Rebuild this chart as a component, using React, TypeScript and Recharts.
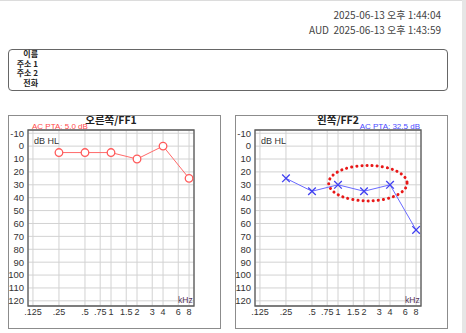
import React from "react";
import {
  LineChart,
  Line,
  XAxis,
  YAxis,
  CartesianGrid,
  ReferenceArea,
} from "recharts";

// measured frequencies (kHz) and thresholds (dB HL)
const FREQS = [0.25, 0.5, 1, 2, 4, 8];
const RIGHT_EAR_DB = [5, 5, 5, 10, 0, 25];
const LEFT_EAR_DB = [25, 35, 30, 35, 30, 65];

const FREQ_TICKS = [0.125, 0.25, 0.5, 0.75, 1, 1.5, 2, 3, 4, 6, 8];
const FREQ_LABELS = [".125", ".25", ".5", ".75", "1", "1.5", "2", "3", "4", "6", "8"];
const DB_TICKS = [-10, 0, 10, 20, 30, 40, 50, 60, 70, 80, 90, 100, 110, 120];

// dotted highlight on the left ear chart (kHz / dB HL)
const HIGHLIGHT_FREQ = [0.78, 6.3];
const HIGHLIGHT_DB = [15, 42.5];

const X_MIN = -3.19;
const X_MAX = 3.19;
const Y_MIN = -12.5;
const Y_MAX = 124;

const log2 = (f: number) => Math.log(f) / Math.LN2;
const tickLabel = (v: number) => {
  const i = FREQ_TICKS.findIndex((f) => Math.abs(log2(f) - v) < 1e-6);
  return i >= 0 ? FREQ_LABELS[i] : "";
};

const FONT = "'Liberation Sans', 'Noto Sans CJK KR', sans-serif";
const KFONT = "'Noto Sans CJK KR', 'Liberation Sans', sans-serif";

const CircleDot = (props: any) => {
  const { cx, cy } = props;
  if (cx == null || cy == null) return null;
  return <circle cx={cx} cy={cy} r={3.8} fill="#fff" stroke="#ff5a5a" strokeWidth={1.3} />;
};

const CrossDot = (props: any) => {
  const { cx, cy } = props;
  if (cx == null || cy == null) return null;
  const s = 3.8;
  return (
    <g stroke="#4040f0" strokeWidth={1.3}>
      <line x1={cx - s} y1={cy - s} x2={cx + s} y2={cy + s} />
      <line x1={cx - s} y1={cy + s} x2={cx + s} y2={cy - s} />
    </g>
  );
};

const EllipseShape = (p: any) => (
  <ellipse
    cx={p.x + p.width / 2}
    cy={p.y + p.height / 2}
    rx={Math.abs(p.width) / 2}
    ry={Math.abs(p.height) / 2}
    fill="none"
    stroke="#e81818"
    strokeWidth={3}
    strokeDasharray="0.1 5"
    strokeLinecap="round"
  />
);

interface PanelProps {
  left: number;
  title: string;
  pta: string;
  ptaColor: string;
  ptaRight?: boolean;
  values: number[];
  color: string;
  dot: (p: any) => React.ReactElement | null;
  highlight?: boolean;
}

const Panel: React.FC<PanelProps> = ({ left, title, pta, ptaColor, ptaRight, values, color, dot, highlight }) => {
  const data = FREQS.map((f, i) => ({ lx: log2(f), db: values[i] }));
  return (
    <>
      <div
        style={{
          position: "absolute",
          left,
          top: 115,
          width: 213,
          height: 214,
          border: "1px solid #8c8c8c",
          boxSizing: "border-box",
        }}
      />
      <div style={{ position: "absolute", left }}>
        <div style={{ position: "absolute", left: 0, top: 115 }}>
          <LineChart width={213} height={214} data={data} margin={{ top: 15, right: 27, bottom: 0, left: 0 }}>
            <CartesianGrid stroke="#d2d2d2" strokeWidth={1} />
            <XAxis
              dataKey="lx"
              type="number"
              domain={[X_MIN, X_MAX]}
              allowDataOverflow
              ticks={FREQ_TICKS.map(log2)}
              tickFormatter={tickLabel}
              interval={0}
              height={23}
              tickSize={0}
              tickMargin={3}
              axisLine={false}
              tick={{ fontSize: 9, fill: "#333", fontFamily: FONT }}
            />
            <YAxis
              type="number"
              reversed
              domain={[Y_MIN, Y_MAX]}
              allowDataOverflow
              ticks={DB_TICKS}
              interval={0}
              width={20}
              tickSize={0}
              tickMargin={4}
              axisLine={false}
              tick={{ fontSize: 9.5, fill: "#333", fontFamily: FONT }}
            />
            <ReferenceArea
              x1={X_MIN}
              x2={X_MAX}
              y1={Y_MIN}
              y2={Y_MAX}
              fill="none"
              stroke="#5a5a5a"
              strokeWidth={1.3}
              ifOverflow="visible"
            />
            {highlight && (
              <ReferenceArea
                x1={log2(HIGHLIGHT_FREQ[0])}
                x2={log2(HIGHLIGHT_FREQ[1])}
                y1={HIGHLIGHT_DB[0]}
                y2={HIGHLIGHT_DB[1]}
                shape={EllipseShape}
                ifOverflow="visible"
              />
            )}
            <Line
              dataKey="db"
              type="linear"
              stroke={color}
              strokeWidth={1}
              dot={dot}
              activeDot={false}
              isAnimationActive={false}
            />
          </LineChart>
        </div>
        <div
          style={{
            position: "absolute",
            left: 20,
            width: 166,
            top: 113,
            textAlign: "center",
            fontFamily: KFONT,
            fontWeight: "bold",
            fontSize: 10.5,
            lineHeight: "14px",
            color: "#222",
            whiteSpace: "nowrap",
          }}
        >
          {title}
        </div>
        <div
          style={{
            position: "absolute",
            ...(ptaRight ? { left: 20, width: 165, textAlign: "right" as const } : { left: 24 }),
            top: 122,
            fontFamily: FONT,
            fontSize: 8,
            lineHeight: "9px",
            color: ptaColor,
            whiteSpace: "nowrap",
          }}
        >
          {pta}
        </div>
        <div
          style={{
            position: "absolute",
            left: 26,
            top: 136,
            fontFamily: FONT,
            fontSize: 9,
            lineHeight: "10px",
            color: "#333",
            whiteSpace: "nowrap",
          }}
        >
          dB HL
        </div>
        <div
          style={{
            position: "absolute",
            left: 170,
            top: 295,
            fontFamily: FONT,
            fontSize: 8.5,
            lineHeight: "10px",
            color: "#553355",
            whiteSpace: "nowrap",
          }}
        >
          kHz
        </div>
      </div>
    </>
  );
};

const infoLabels = ["이름", "주소 1", "주소 2", "전화"];

const App: React.FC = () => {
  return (
    <div
      style={{
        position: "absolute",
        left: 0,
        top: 0,
        width: 466,
        height: 333,
        background: "#fff",
        overflow: "hidden",
        fontFamily: KFONT,
      }}
    >
      <div style={{ position: "absolute", left: 0, top: 0, width: 466, height: 1, background: "#dcdcdc" }} />
      <div style={{ position: "absolute", left: 462, top: 0, width: 4, height: 333, background: "#e6e6e6" }} />
      <div
        style={{
          position: "absolute",
          right: 25,
          top: 7,
          textAlign: "right",
          fontSize: 10,
          lineHeight: "15px",
          color: "#444",
          fontFamily: KFONT,
          whiteSpace: "pre",
        }}
      >
        <div>2025-06-13 오후 1:44:04</div>
        <div>AUD  2025-06-13 오후 1:43:59</div>
      </div>
      <div
        style={{
          position: "absolute",
          left: 8,
          top: 49,
          width: 440,
          height: 42,
          border: "1px solid #666",
          borderRadius: 4,
          boxSizing: "border-box",
        }}
      />
      {infoLabels.map((t, i) => (
        <div
          key={t}
          style={{
            position: "absolute",
            left: 8,
            top: 49 + i * 9.6,
            width: 30,
            textAlign: "right",
            fontSize: 8,
            lineHeight: "9px",
            fontWeight: "bold",
            color: "#222",
            fontFamily: KFONT,
            whiteSpace: "nowrap",
          }}
        >
          {t}
        </div>
      ))}
      <Panel
        left={8}
        title="오른쪽/FF1"
        pta="AC PTA: 5.0 dB"
        ptaColor="#ff4a4a"
        values={RIGHT_EAR_DB}
        color="#ff6a6a"
        dot={CircleDot}
      />
      <Panel
        left={235}
        title="왼쪽/FF2"
        pta="AC PTA: 32.5 dB"
        ptaColor="#4a4aff"
        ptaRight
        values={LEFT_EAR_DB}
        color="#6a6aff"
        dot={CrossDot}
        highlight
      />
    </div>
  );
};

export default App;
